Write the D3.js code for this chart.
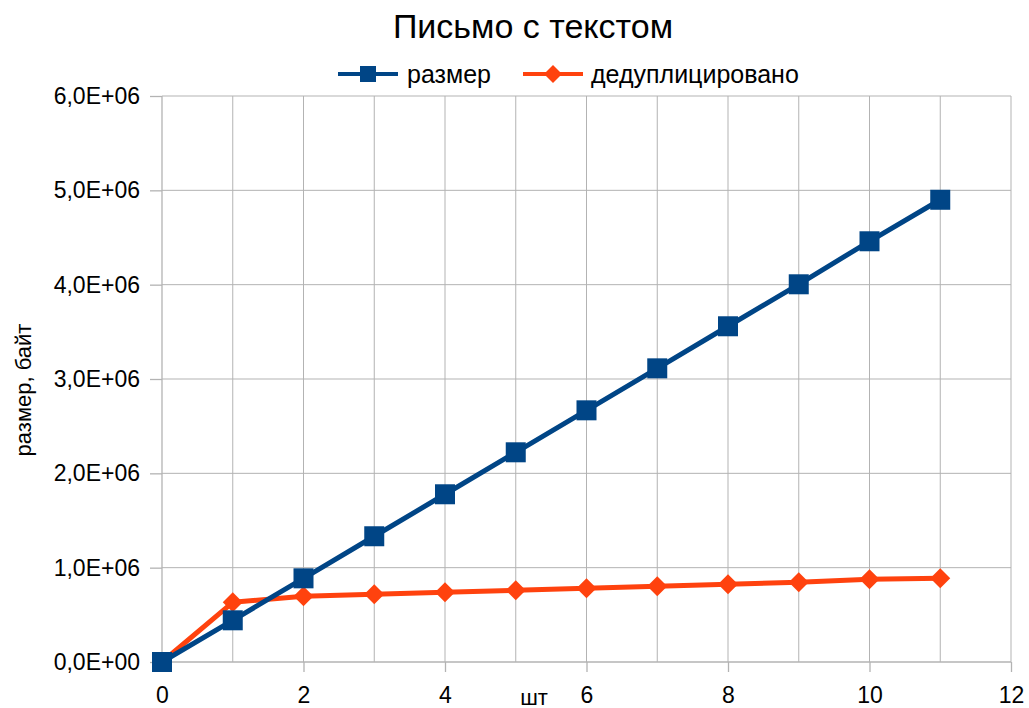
<!DOCTYPE html>
<html>
<head>
<meta charset="utf-8">
<script src="https://cdn.jsdelivr.net/npm/d3@7"></script>
<style>
  body { margin: 0; background: #fff; }
  text { font-family: "Liberation Sans", Arial, sans-serif; fill: #000; }
</style>
</head>
<body>
<svg width="1029" height="708"></svg>
<script>
  var title = "Письмо с текстом";
  var xTitle = "шт";
  var yTitle = "размер, байт";
  var seriesNames = ["размер", "дедуплицировано"];
  var xValues = [0, 1, 2, 3, 4, 5, 6, 7, 8, 9, 10, 11];
  var sizeValues = [0, 0.442e6, 0.887e6, 1.333e6, 1.778e6, 2.223e6, 2.668e6, 3.113e6, 3.559e6, 4.004e6, 4.46e6, 4.90e6];
  var dedupValues = [0, 0.633e6, 0.696e6, 0.718e6, 0.739e6, 0.76e6, 0.781e6, 0.803e6, 0.824e6, 0.845e6, 0.877e6, 0.887e6];
  var xTicks = [0, 2, 4, 6, 8, 10, 12];
  var yTicks = [0, 1e6, 2e6, 3e6, 4e6, 5e6, 6e6];

  var svg = d3.select("svg");
  var margin = { top: 96, left: 162, right: 18, bottom: 46 };
  var width = +svg.attr("width");
  var height = +svg.attr("height");
  var innerWidth = width - margin.left - margin.right;   // 849
  var innerHeight = height - margin.top - margin.bottom; // 566

  var xScale = d3.scaleLinear().domain([0, 12]).range([0, innerWidth]);
  var yScale = d3.scaleLinear().domain([0, 6e6]).range([innerHeight, 0]);

  // "6,0E+06" style labels
  var sci = function (v) {
    var e = v === 0 ? 0 : Math.floor(Math.log10(v));
    var m = v / Math.pow(10, e);
    return m.toFixed(1).replace(".", ",") + "E+" + (e < 10 ? "0" : "") + e;
  };

  var g = svg.append("g")
    .attr("transform", "translate(" + margin.left + "," + margin.top + ")");

  // grid
  g.append("g").selectAll("line")
    .data(d3.range(1, 13))
    .enter().append("line")
    .attr("x1", function (d) { return xScale(d); })
    .attr("x2", function (d) { return xScale(d); })
    .attr("y1", 0).attr("y2", innerHeight)
    .attr("stroke", "#b3b3b3").attr("stroke-width", 1);
  g.append("g").selectAll("line")
    .data(yTicks.slice(1))
    .enter().append("line")
    .attr("x1", 0).attr("x2", innerWidth)
    .attr("y1", function (d) { return yScale(d); })
    .attr("y2", function (d) { return yScale(d); })
    .attr("stroke", "#b3b3b3").attr("stroke-width", 1);

  var yAxis = d3.axisLeft(yScale).tickValues(yTicks).tickFormat(sci).tickSize(12).tickPadding(10);
  var xAxis = d3.axisBottom(xScale).tickValues(xTicks).tickSize(10).tickPadding(15);

  var yG = g.append("g").call(yAxis).attr("font-size", 23).attr("font-family", null);
  var xG = g.append("g").attr("transform", "translate(0," + innerHeight + ")").call(xAxis)
    .attr("font-size", 23).attr("font-family", null);
  [yG, xG].forEach(function (a) {
    a.selectAll("path, line").attr("stroke", "#b3b3b3").attr("stroke-width", 1.3);
    a.selectAll("text").attr("fill", "#000");
  });
  xG.select(".domain").attr("d", "M0,0H" + innerWidth);
  yG.select(".domain").attr("d", "M0," + innerHeight + "V0");

  // lines
  var sizeData = xValues.map(function (x, i) { return [x, sizeValues[i]]; });
  var dedupData = xValues.map(function (x, i) { return [x, dedupValues[i]]; });
  var line = d3.line()
    .x(function (d) { return xScale(d[0]); })
    .y(function (d) { return yScale(d[1]); });

  g.append("path").datum(dedupData).attr("d", line)
    .attr("fill", "none").attr("stroke", "#ff420e").attr("stroke-width", 5).attr("stroke-linejoin", "round");
  g.append("g").selectAll("path").data(dedupData).enter().append("path")
    .attr("d", "M0,-10L10,0L0,10L-10,0Z")
    .attr("transform", function (d) { return "translate(" + xScale(d[0]) + "," + yScale(d[1]) + ")"; })
    .attr("fill", "#ff420e");

  g.append("path").datum(sizeData).attr("d", line)
    .attr("fill", "none").attr("stroke", "#004586").attr("stroke-width", 5).attr("stroke-linejoin", "round");
  g.append("g").selectAll("rect").data(sizeData).enter().append("rect")
    .attr("x", function (d) { return xScale(d[0]) - 10; })
    .attr("y", function (d) { return yScale(d[1]) - 10; })
    .attr("width", 20).attr("height", 20)
    .attr("fill", "#004586");

  // title
  svg.append("text").attr("x", 533).attr("y", 38).attr("text-anchor", "middle")
    .style("font-size", "34px").text(title);

  // axis titles
  svg.append("text").attr("x", 534).attr("y", 705).attr("text-anchor", "middle")
    .style("font-size", "22px").text(xTitle);
  svg.append("text").attr("transform", "translate(31,390) rotate(-90)").attr("text-anchor", "middle")
    .style("font-size", "22px").text(yTitle);

  // legend
  var legend = svg.append("g").attr("transform", "translate(0,74)");
  legend.append("line").attr("x1", 338).attr("x2", 398).attr("y1", 0).attr("y2", 0)
    .attr("stroke", "#004586").attr("stroke-width", 4);
  legend.append("rect").attr("x", 360).attr("y", -8).attr("width", 16).attr("height", 16).attr("fill", "#004586");
  legend.append("text").attr("x", 407).attr("y", 9).style("font-size", "25px").text(seriesNames[0]);
  legend.append("line").attr("x1", 523).attr("x2", 583).attr("y1", 0).attr("y2", 0)
    .attr("stroke", "#ff420e").attr("stroke-width", 4);
  legend.append("path").attr("d", "M553,-9L562,0L553,9L544,0Z").attr("fill", "#ff420e");
  legend.append("text").attr("x", 591).attr("y", 9).style("font-size", "25px").text(seriesNames[1]);
</script>
</body>
</html>
